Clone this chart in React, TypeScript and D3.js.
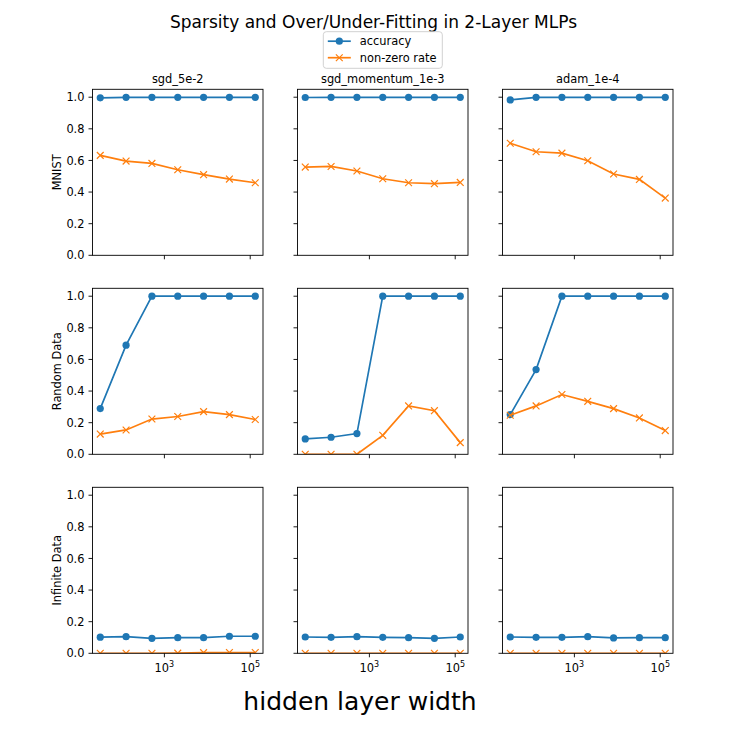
import * as d3 from 'd3'

const widths = [32, 128, 512, 2048, 8192, 32768, 131072]
const datasets = ['MNIST', 'Random Data', 'Infinite Data']
const optimizers = ['sgd_5e-2', 'sgd_momentum_1e-3', 'adam_1e-4']
const yTicks = [0, 0.2, 0.4, 0.6, 0.8, 1.0]
const xTicks = [1e3, 1e5]
const xTickExps = ['3', '5']

// accuracy / non-zero rate, one array per (dataset, optimizer)
const mnistSgdAcc = [0.996, 0.999, 0.999, 0.999, 0.999, 0.999, 0.999]
const mnistSgdNz = [0.632, 0.596, 0.581, 0.541, 0.51, 0.482, 0.459]
const mnistMomAcc = [0.998, 0.999, 0.999, 0.999, 0.999, 0.999, 0.999]
const mnistMomNz = [0.558, 0.562, 0.533, 0.484, 0.459, 0.453, 0.461]
const mnistAdamAcc = [0.983, 0.999, 0.999, 0.999, 0.999, 0.999, 0.999]
const mnistAdamNz = [0.709, 0.655, 0.646, 0.598, 0.514, 0.48, 0.362]

const randomSgdAcc = [0.289, 0.69, 1.0, 1.0, 1.0, 1.0, 1.0]
const randomSgdNz = [0.128, 0.154, 0.223, 0.239, 0.27, 0.251, 0.22]
const randomMomAcc = [0.097, 0.108, 0.131, 1.0, 1.0, 1.0, 1.0]
const randomMomNz = [0.0, 0.0, 0.0, 0.12, 0.306, 0.276, 0.074]
const randomAdamAcc = [0.251, 0.536, 1.0, 1.0, 1.0, 1.0, 1.0]
const randomAdamNz = [0.247, 0.306, 0.378, 0.335, 0.289, 0.23, 0.15]

const infiniteSgdAcc = [0.102, 0.105, 0.095, 0.099, 0.099, 0.108, 0.108]
const infiniteSgdNz = [0.0, 0.0, 0.0, 0.001, 0.004, 0.005, 0.005]
const infiniteMomAcc = [0.103, 0.101, 0.105, 0.101, 0.099, 0.095, 0.103]
const infiniteMomNz = [0.0, 0.0, 0.0, 0.0, 0.0, 0.0, 0.0]
const infiniteAdamAcc = [0.103, 0.101, 0.101, 0.105, 0.097, 0.099, 0.099]
const infiniteAdamNz = [0.0, 0.0, 0.0, 0.0, 0.0, 0.0, 0.0]

const grid = [
  [[mnistSgdAcc, mnistSgdNz], [mnistMomAcc, mnistMomNz], [mnistAdamAcc, mnistAdamNz]],
  [[randomSgdAcc, randomSgdNz], [randomMomAcc, randomMomNz], [randomAdamAcc, randomAdamNz]],
  [[infiniteSgdAcc, infiniteSgdNz], [infiniteMomAcc, infiniteMomNz], [infiniteAdamAcc, infiniteAdamNz]],
]

const BLUE = '#1f77b4'
const ORANGE = '#ff7f0e'
const FONT = 'DejaVu Sans, Verdana, sans-serif'
const FS = 11.4

const colLeft = [92.5, 297.5, 502.5]
const rowTop = [89.3, 288.3, 487.3]
const axW = 170.5
const axH = 166

// log-space margins like matplotlib (5% each side)
const lo = Math.log10(widths[0])
const hi = Math.log10(widths[widths.length - 1])
const pad = (hi - lo) * 0.05
const x = d3.scaleLog().domain([10 ** (lo - pad), 10 ** (hi + pad)]).range([0, axW])
const y = d3.scaleLinear().domain([0, 1.05]).range([axH, 0])

const line = d3
  .line<number>()
  .x((_, i) => x(widths[i]))
  .y((v) => y(v))

function XMarker({ cx, cy }: { cx: number; cy: number }) {
  const s = 3.4
  return (
    <path
      d={`M${cx - s},${cy - s}L${cx + s},${cy + s}M${cx - s},${cy + s}L${cx + s},${cy - s}`}
      stroke={ORANGE}
      strokeWidth={1.2}
      fill="none"
    />
  )
}

function Panel({ row, col }: { row: number; col: number }) {
  const [acc, nz] = grid[row][col]
  const id = `clip-${row}-${col}`
  const showY = col === 0
  const showX = row === 2
  return (
    <g transform={`translate(${colLeft[col]},${rowTop[row]})`}>
      <defs>
        <clipPath id={id}>
          <rect x={0} y={0} width={axW} height={axH} />
        </clipPath>
      </defs>
      <g clipPath={`url(#${id})`}>
        <path d={line(acc) ?? ''} stroke={BLUE} strokeWidth={1.7} fill="none" />
        {acc.map((v, i) => (
          <circle key={i} cx={x(widths[i])} cy={y(v)} r={3.6} fill={BLUE} />
        ))}
        <path d={line(nz) ?? ''} stroke={ORANGE} strokeWidth={1.7} fill="none" />
        {nz.map((v, i) => (
          <XMarker key={i} cx={x(widths[i])} cy={y(v)} />
        ))}
      </g>
      <rect x={0} y={0} width={axW} height={axH} fill="none" stroke="#000" strokeWidth={0.9} />
      {yTicks.map((t) => (
        <g key={t}>
          <line x1={-4} x2={0} y1={y(t)} y2={y(t)} stroke="#000" strokeWidth={0.9} />
          {showY && (
            <text x={-8} y={y(t)} dy="0.36em" textAnchor="end" fontSize={FS} fontFamily={FONT}>
              {t.toFixed(1)}
            </text>
          )}
        </g>
      ))}
      {xTicks.map((t, i) => (
        <g key={t}>
          <line x1={x(t)} x2={x(t)} y1={axH} y2={axH + 4} stroke="#000" strokeWidth={0.9} />
          {showX && (
            <text x={x(t)} y={axH + 18.5} textAnchor="middle" fontSize={FS} fontFamily={FONT}>
              10
              <tspan fontSize={8} dy={-5}>
                {xTickExps[i]}
              </tspan>
            </text>
          )}
        </g>
      ))}
      {row === 0 && (
        <text x={axW / 2} y={-6} textAnchor="middle" fontSize={FS} fontFamily={FONT}>
          {optimizers[col]}
        </text>
      )}
      {col === 0 && (
        <text
          transform={`translate(${-32},${axH / 2}) rotate(-90)`}
          textAnchor="middle"
          fontSize={FS}
          fontFamily={FONT}
        >
          {datasets[row]}
        </text>
      )}
    </g>
  )
}

function Legend() {
  const lx = 323.3
  const ly = 31.7
  const rows = [
    { label: 'accuracy', color: BLUE, marker: 'o' },
    { label: 'non-zero rate', color: ORANGE, marker: 'x' },
  ]
  return (
    <g>
      <rect x={lx} y={ly} width={119} height={36.6} rx={3} fill="#fff" fillOpacity={0.8} stroke="#cccccc" strokeWidth={0.9} />
      {rows.map((r, i) => {
        const cy = ly + 9.5 + i * 16.5
        const mx = lx + 16
        return (
          <g key={r.label}>
            <line x1={lx + 4.5} x2={lx + 27.5} y1={cy} y2={cy} stroke={r.color} strokeWidth={1.7} />
            {r.marker === 'o' ? <circle cx={mx} cy={cy} r={3.6} fill={r.color} /> : <XMarker cx={mx} cy={cy} />}
            <text x={lx + 36.5} y={cy} dy="0.36em" fontSize={FS} fontFamily={FONT}>
              {r.label}
            </text>
          </g>
        )
      })}
    </g>
  )
}

export default function App() {
  return (
    <div style={{ position: 'fixed', left: 0, top: 0, width: 747, height: 747, background: '#fff' }}>
      <svg width={747} height={747} style={{ display: 'block' }}>
        <rect width={747} height={747} fill="#fff" />
        <text x={373.5} y={27.5} textAnchor="middle" fontSize={17} fontFamily={FONT}>
          Sparsity and Over/Under-Fitting in 2-Layer MLPs
        </text>
        <Legend />
        {datasets.map((_, r) => optimizers.map((__, c) => <Panel key={`${r}-${c}`} row={r} col={c} />))}
        <text x={360} y={710} textAnchor="middle" fontSize={25} fontFamily={FONT}>
          hidden layer width
        </text>
      </svg>
    </div>
  )
}
